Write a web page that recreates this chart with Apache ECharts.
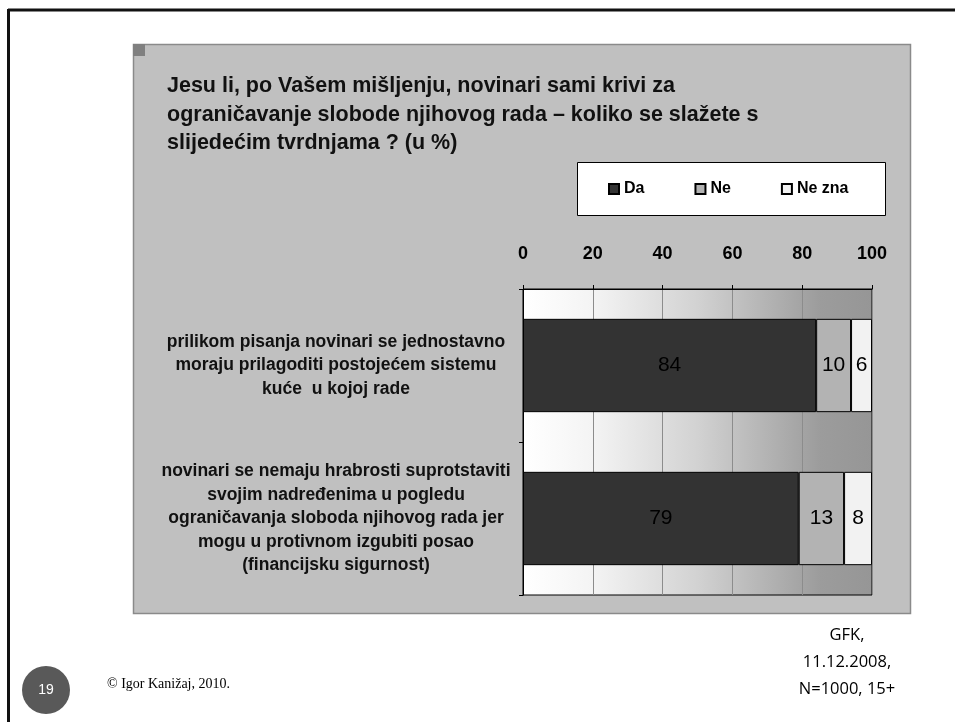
<!DOCTYPE html>
<html>
<head>
<meta charset="UTF-8">
<title>Novinari - ograničavanje slobode rada</title>
<script src="https://cdn.jsdelivr.net/npm/echarts@6/dist/echarts.min.js"></script>
<style>
  html, body { margin: 0; padding: 0; background: #fff; }
  #chart { width: 955px; height: 722px; }
</style>
</head>
<body>
<div id="chart"></div>
<script type="text/javascript">
  // podaci (u %)
  var categories = [
    'prilikom pisanja novinari se jednostavno\nmoraju prilagoditi postojećem sistemu\nkuće  u kojoj rade',
    'novinari se nemaju hrabrosti suprotstaviti\nsvojim nadređenima u pogledu\nograničavanja sloboda njihovog rada jer\nmogu u protivnom izgubiti posao\n(financijsku sigurnost)'
  ];
  var seriesNames = ['Da', 'Ne', 'Ne zna'];
  var daValues = [84, 79];
  var neValues = [10, 13];
  var neZnaValues = [6, 8];
  var xTicks = [0, 20, 40, 60, 80, 100];

  var titleText = 'Jesu li, po Vašem mišljenju, novinari sami krivi za\nograničavanje slobode njihovog rada – koliko se slažete s\nslijedećim tvrdnjama ? (u %)';
  var sourceText = 'GFK,\n11.12.2008,\nN=1000, 15+';

  var chart = echarts.init(document.getElementById('chart'));

  // zajednički stil stupaca
  function barSeries(name, data, color) {
    return {
      name: name,
      type: 'bar',
      stack: 'ukupno',
      barWidth: '61%',
      data: data,
      itemStyle: { color: color, borderColor: '#000', borderWidth: 1 },
      label: {
        show: true,
        position: 'inside',
        color: '#000',
        fontFamily: 'Liberation Sans',
        fontSize: 21
      },
      z: 3
    };
  }

  var option = {
    backgroundColor: '#fff',
    animation: false,
    title: {
      text: titleText,
      left: 162,
      top: 67,
      textStyle: {
        fontFamily: 'Liberation Sans',
        fontWeight: 'bold',
        fontSize: 21.5,
        lineHeight: 28.5,
        color: '#111'
      }
    },
    legend: {
      data: seriesNames,
      left: 603,
      top: 176,
      icon: 'rect',
      itemWidth: 10,
      itemHeight: 10,
      itemGap: 50,
      textStyle: {
        fontFamily: 'Liberation Sans',
        fontWeight: 'bold',
        fontSize: 16,
        color: '#000'
      },
      selectedMode: false
    },
    grid: {
      left: 523,
      right: 83,
      top: 289,
      bottom: 127,
      show: true,
      borderColor: '#000',
      borderWidth: 1,
      backgroundColor: {
        type: 'linear', x: 0, y: 0, x2: 1, y2: 0,
        colorStops: [
          { offset: 0, color: '#ffffff' },
          { offset: 0.2, color: '#f4f4f4' },
          { offset: 0.5, color: '#d2d2d2' },
          { offset: 0.85, color: '#9c9c9c' },
          { offset: 1, color: '#969696' }
        ]
      }
    },
    xAxis: {
      type: 'value',
      position: 'top',
      min: xTicks[0],
      max: xTicks[xTicks.length - 1],
      interval: 20,
      axisLine: { show: true, lineStyle: { color: '#000' } },
      axisTick: { show: true, length: 4, lineStyle: { color: '#000' } },
      splitLine: { show: true, lineStyle: { color: '#8c8c8c' } },
      axisLabel: {
        margin: 26,
        fontFamily: 'Liberation Sans',
        fontWeight: 'bold',
        fontSize: 18,
        color: '#000'
      }
    },
    yAxis: {
      type: 'category',
      inverse: true,
      data: categories,
      axisLine: { show: true, lineStyle: { color: '#000' } },
      axisTick: { show: true, length: 4, lineStyle: { color: '#000' } },
      axisLabel: {
        align: 'center',
        margin: 187,
        fontFamily: 'Liberation Sans',
        fontWeight: 'bold',
        fontSize: 17.5,
        lineHeight: 23.5,
        color: '#111'
      }
    },
    series: [
      barSeries(seriesNames[0], daValues, '#333333'),
      barSeries(seriesNames[1], neValues, '#b3b3b3'),
      barSeries(seriesNames[2], neZnaValues, '#f2f2f2')
    ],
    graphic: [
      // okvir slajda
      { type: 'line', z: -5, shape: { x1: 8, y1: 10, x2: 955, y2: 10 }, style: { stroke: '#111', lineWidth: 3 } },
      { type: 'line', z: -5, shape: { x1: 8.5, y1: 9, x2: 8.5, y2: 722 }, style: { stroke: '#111', lineWidth: 3 } },
      // sivi panel
      { type: 'rect', z: -4, shape: { x: 133.5, y: 44.5, width: 777, height: 569 }, style: { fill: '#c0c0c0', stroke: '#8a8a8a', lineWidth: 1.5 } },
      { type: 'rect', z: -3, shape: { x: 133, y: 44, width: 12, height: 12 }, style: { fill: '#808080' } },
      // okvir legende
      { type: 'rect', z: -2, shape: { x: 577.5, y: 162.5, width: 308, height: 53 }, style: { fill: '#fff', stroke: '#000', lineWidth: 1 } },
      // broj slajda
      { type: 'circle', z: -2, shape: { cx: 46, cy: 690, r: 24 }, style: { fill: '#595959' } },
      { type: 'text', z: -1, x: 46, y: 690, style: { text: '19', fill: '#fff', font: '14px "Liberation Sans"', align: 'center', verticalAlign: 'middle' } },
      { type: 'text', z: -1, x: 107, y: 684, style: { text: '© Igor Kanižaj, 2010.', fill: '#000', font: '14px "Liberation Serif"', align: 'left', verticalAlign: 'middle' } },
      { type: 'text', z: -1, x: 847, y: 622, style: { text: sourceText, fill: '#000', font: '16.5px "Open Sans"', lineHeight: 27, align: 'center', verticalAlign: 'top' } }
    ]
  };

  chart.setOption(option);
</script>
</body>
</html>
